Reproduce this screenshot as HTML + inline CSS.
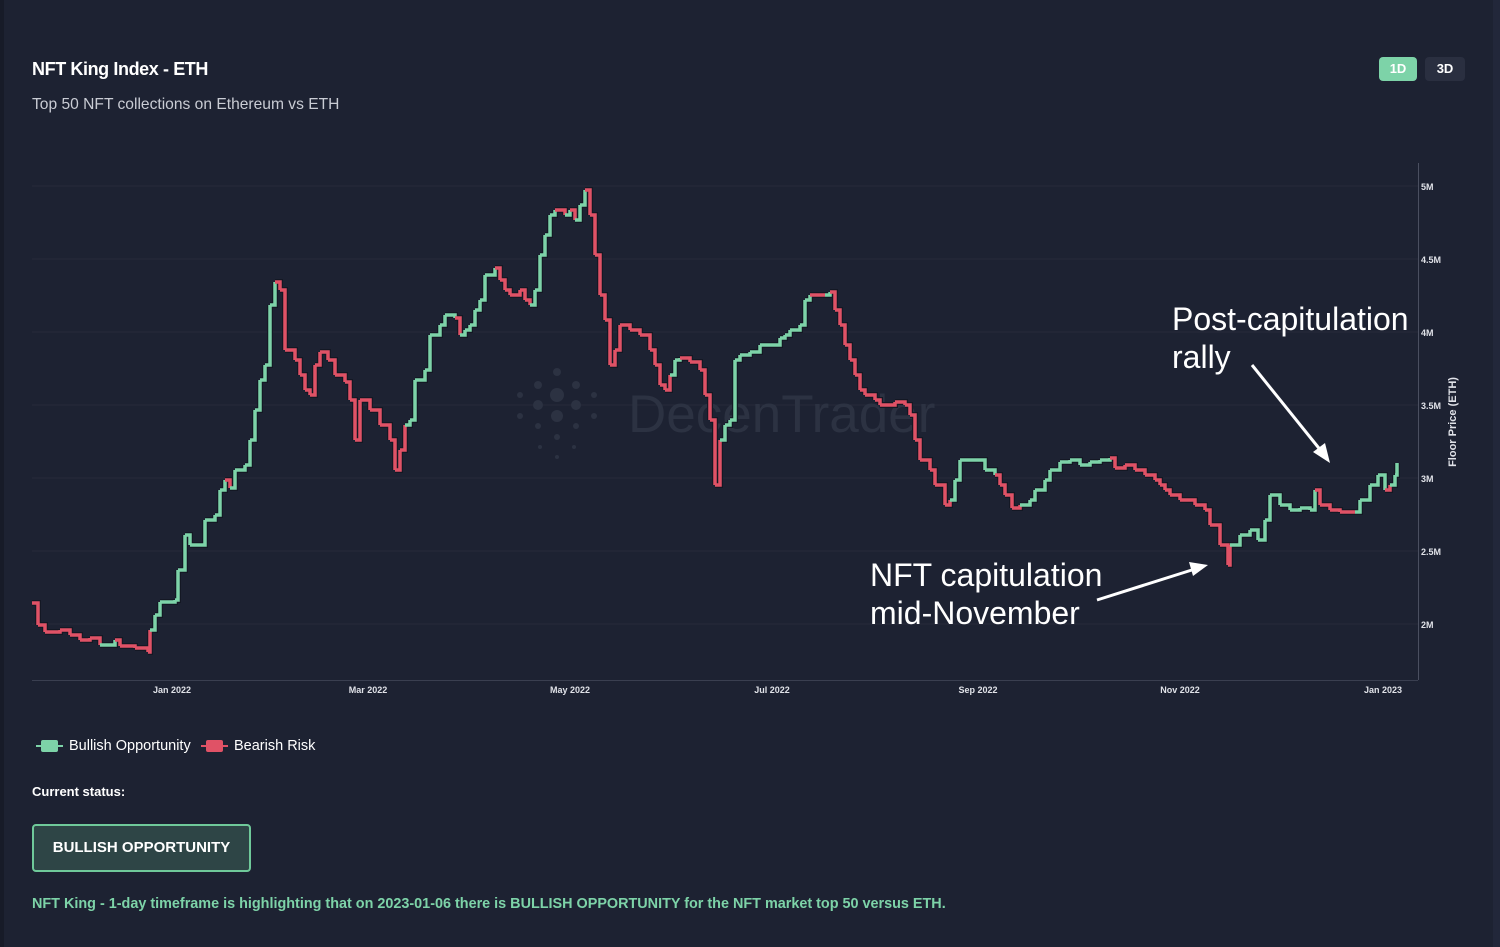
<!DOCTYPE html>
<html><head><meta charset="utf-8"><style>
html,body{margin:0;padding:0}
body{width:1500px;height:947px;background:#1d2232;position:relative;overflow:hidden;font-family:"Liberation Sans",sans-serif;color:#fff}
.t{position:absolute;white-space:nowrap}
</style></head><body>
<div style="position:absolute;left:0;top:0;width:4px;height:947px;background:#171b28"></div>
<div style="position:absolute;left:1493px;top:0;width:7px;height:947px;background:#22273a"></div>
<div class="t" style="left:32px;top:59px;font-size:18px;font-weight:bold;letter-spacing:-0.4px">NFT King Index - ETH</div>
<div class="t" style="left:32px;top:96px;font-size:15.6px;color:#c9ccd4">Top 50 NFT collections on Ethereum vs ETH</div>
<div class="t" style="left:1379px;top:57px;width:38px;height:24px;background:#7dd3a8;border-radius:4px;font-size:13px;font-weight:bold;text-align:center;line-height:24px">1D</div>
<div class="t" style="left:1425px;top:57px;width:40px;height:24px;background:#2a2f40;border-radius:4px;font-size:13px;font-weight:bold;text-align:center;line-height:24px">3D</div>
<svg width="1500" height="947" style="position:absolute;left:0;top:0">
<g stroke="#262b3b" stroke-width="1">
<line x1="32" y1="186" x2="1418" y2="186"/><line x1="32" y1="259" x2="1418" y2="259"/><line x1="32" y1="332" x2="1418" y2="332"/><line x1="32" y1="405" x2="1418" y2="405"/><line x1="32" y1="478" x2="1418" y2="478"/><line x1="32" y1="551" x2="1418" y2="551"/><line x1="32" y1="624" x2="1418" y2="624"/>
</g>
<line x1="1418.5" y1="163" x2="1418.5" y2="680" stroke="#4a4f60"/>
<line x1="32" y1="680.5" x2="1418" y2="680.5" stroke="#3a3f50"/>
<g font-size="9" font-weight="bold" fill="#e0e2e8">
<text x="1421" y="190">5M</text><text x="1421" y="263">4.5M</text><text x="1421" y="336">4M</text><text x="1421" y="409">3.5M</text><text x="1421" y="482">3M</text><text x="1421" y="555">2.5M</text><text x="1421" y="628">2M</text>
<g text-anchor="middle"><text x="172" y="693">Jan 2022</text><text x="368" y="693">Mar 2022</text><text x="570" y="693">May 2022</text><text x="772" y="693">Jul 2022</text><text x="978" y="693">Sep 2022</text><text x="1180" y="693">Nov 2022</text><text x="1383" y="693">Jan 2023</text></g>
</g>
<text transform="translate(1456,422) rotate(-90)" font-size="11" font-weight="bold" fill="#e0e2e8" text-anchor="middle">Floor Price (ETH)</text>
<g fill="#2c3242">
<circle cx="557" cy="395" r="7"/><circle cx="557" cy="416" r="6"/><circle cx="538" cy="405" r="5"/><circle cx="576" cy="405" r="5"/><circle cx="538" cy="385" r="4"/><circle cx="576" cy="385" r="4"/><circle cx="557" cy="372" r="4"/><circle cx="520" cy="395" r="3"/><circle cx="594" cy="395" r="3"/><circle cx="520" cy="416" r="3"/><circle cx="594" cy="416" r="3"/><circle cx="538" cy="426" r="3"/><circle cx="576" cy="426" r="3"/><circle cx="557" cy="437" r="3"/><circle cx="540" cy="447" r="2"/><circle cx="574" cy="447" r="2"/><circle cx="557" cy="457" r="2"/>
</g>
<text x="628" y="432" font-size="53" fill="#2c3242">DecenTrader</text>
<g id="series" fill="none" stroke-width="3.5" stroke-linejoin="miter"></g>
<g fill="#fff" font-size="32">
<text x="1172" y="330">Post-capitulation</text><text x="1172" y="368">rally</text>
<text x="870" y="586">NFT capitulation</text><text x="870" y="624">mid-November</text>
</g>
<g stroke="#fff" stroke-width="3" fill="#fff">
<line x1="1252" y1="365" x2="1322" y2="452"/><polygon points="1330,463 1313,452 1325,443" stroke="none"/>
<line x1="1097" y1="600" x2="1195" y2="569"/><polygon points="1208,565 1193,576 1189,562" stroke="none"/>
</g>
<g>
<line x1="36" y1="746" x2="63" y2="746" stroke="#7dd3a8" stroke-width="2"/><rect x="41" y="740" width="17" height="12" rx="2" fill="#7dd3a8"/>
<line x1="201" y1="746" x2="228" y2="746" stroke="#e05266" stroke-width="2"/><rect x="206" y="740" width="17" height="12" rx="2" fill="#e05266"/>
</g>
</svg>
<div class="t" style="left:69px;top:738px;font-size:14.5px">Bullish Opportunity</div>
<div class="t" style="left:234px;top:738px;font-size:14.5px">Bearish Risk</div>
<div class="t" style="left:32px;top:784px;font-size:13px;font-weight:bold">Current status:</div>
<div class="t" style="left:32px;top:824px;width:215px;height:44px;border:2px solid #6fc99a;border-radius:4px;background:#2e4546;font-size:15px;font-weight:bold;text-align:center;line-height:44px">BULLISH OPPORTUNITY</div>
<div class="t" style="left:32px;top:896px;font-size:14.4px;font-weight:bold;color:#7dd3a8">NFT King - 1-day timeframe is highlighting that on 2023-01-06 there is BULLISH OPPORTUNITY for the NFT market top 50 versus ETH.</div>
<script>
var R='r',G='g';
var P=[[32,603,R],[38,625,R],[45,632,R],[60,630,R],[70,635,R],[80,640,R],[90,638,R],[100,645,R],[115,640,G],[120,646,R],[135,648,R],[148,652,R],[150,630,R],[155,615,G],[160,602,G],[175,600,G],[178,570,G],[185,535,G],[190,545,G],[200,545,G],[205,520,G],[215,515,G],[220,490,G],[225,480,G],[230,488,R],[235,470,G],[245,465,G],[250,440,G],[255,410,G],[260,380,G],[265,365,G],[270,305,G],[275,282,G],[280,290,R],[285,350,R],[295,360,R],[300,375,R],[305,390,R],[310,395,R],[315,365,R],[320,352,R],[328,360,R],[335,375,R],[345,382,R],[350,400,R],[355,440,R],[360,400,R],[370,410,R],[380,425,R],[390,440,R],[395,470,R],[400,450,R],[405,425,R],[410,420,G],[415,380,G],[425,370,G],[430,335,G],[440,325,G],[445,315,G],[455,318,G],[460,335,R],[465,330,G],[470,325,G],[475,310,G],[480,300,G],[485,275,G],[495,268,G],[500,280,R],[505,290,R],[510,295,R],[520,290,R],[525,300,R],[530,305,R],[535,290,G],[540,255,G],[545,235,G],[550,215,G],[555,210,G],[565,215,R],[570,210,G],[575,220,R],[580,205,G],[585,190,G],[590,215,R],[595,255,R],[600,295,R],[605,320,R],[610,365,R],[615,350,R],[620,325,R],[630,330,R],[640,335,R],[650,350,R],[655,365,R],[660,385,R],[665,390,R],[670,375,R],[675,360,G],[680,358,G],[690,362,R],[700,370,R],[705,395,R],[710,420,R],[715,485,R],[720,440,R],[725,425,G],[730,420,G],[735,360,G],[740,355,G],[750,352,G],[760,345,G],[770,345,G],[780,338,G],[785,335,G],[790,330,G],[800,325,G],[805,300,G],[810,295,G],[825,295,R],[830,292,G],[835,310,R],[840,325,R],[845,345,R],[850,360,R],[855,375,R],[860,390,R],[865,395,R],[875,400,R],[880,405,R],[895,402,R],[905,405,R],[910,415,R],[915,440,R],[920,460,R],[930,470,R],[935,485,R],[945,505,R],[950,500,R],[955,480,G],[960,460,G],[975,460,G],[985,470,G],[995,475,G],[1000,485,R],[1005,495,R],[1012,508,R],[1020,505,R],[1030,500,G],[1035,490,G],[1045,480,G],[1050,470,G],[1060,462,G],[1070,460,G],[1080,465,G],[1090,462,G],[1100,460,G],[1110,458,G],[1115,468,R],[1125,465,R],[1135,470,R],[1145,475,R],[1155,480,R],[1160,485,R],[1165,490,R],[1170,495,R],[1180,500,R],[1195,505,R],[1205,510,R],[1210,525,R],[1220,545,R],[1228,565,R],[1230,545,R],[1240,535,G],[1250,530,G],[1258,540,G],[1265,520,G],[1270,495,G],[1280,505,G],[1290,510,G],[1300,508,G],[1310,510,G],[1315,490,G],[1320,505,R],[1330,510,R],[1340,512,R],[1355,512,R],[1360,500,G],[1370,485,G],[1378,475,G],[1385,490,G],[1390,485,R],[1395,475,G],[1397,463,G]];
var g=document.getElementById('series'),out='',bg='';
for(var i=1;i<P.length;i++){var a=P[i-1],b=P[i];var d='M'+a[0]+' '+a[1]+'H'+b[0]+'V'+b[1];
bg+='<path d="'+d+'" stroke="#141824" stroke-width="6"/>';
out+='<path d="'+d+'" stroke="'+(b[2]==R?'#e05266':'#7dd3a8')+'"/>';}
g.innerHTML=bg+out;
</script>
</body></html>
